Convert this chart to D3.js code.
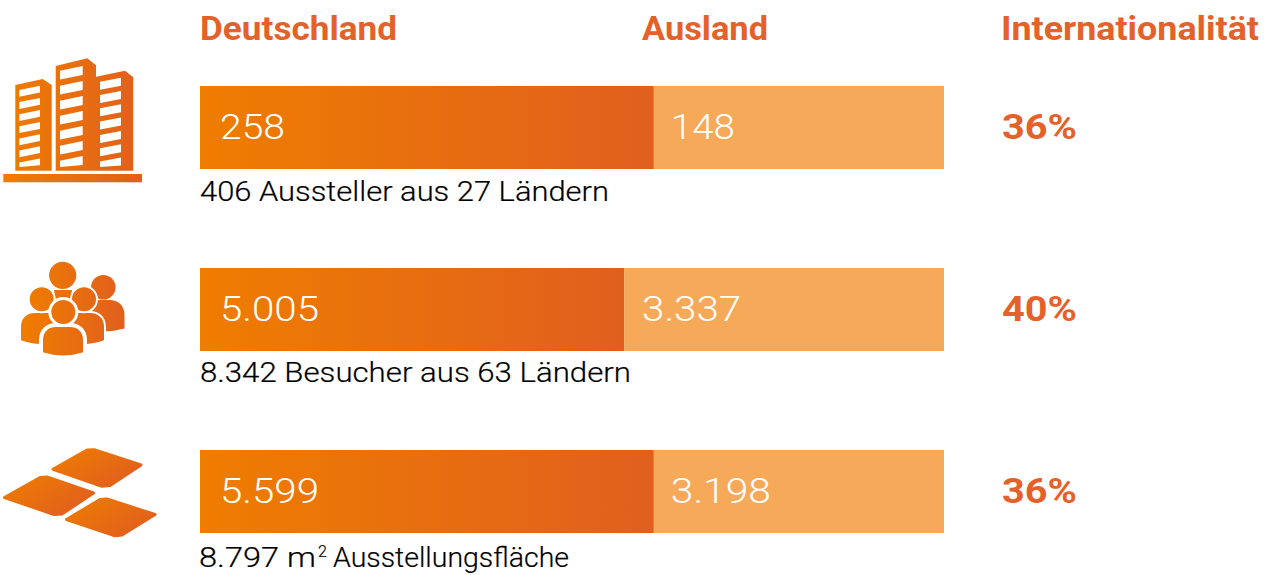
<!DOCTYPE html>
<html lang="de">
<head>
<meta charset="utf-8">
<title>Deutschland / Ausland</title>
<script src="https://cdn.jsdelivr.net/npm/d3@7"></script>
<style>
  html, body { margin: 0; padding: 0; background: #fff; }
  svg { display: block; font-family: Roboto, sans-serif; }
  .head { font-size: 33px; font-weight: 700; fill: #e4622a; }
  .value { font-size: 34.5px; font-weight: 300; fill: #fff; }
  .pct { font-size: 34.5px; font-weight: 700; fill: #e4622a; }
  .caption { font-size: 28px; font-weight: 300; fill: #000; stroke: #000; stroke-width: 0.2px; }
</style>
</head>
<body>
<svg id="chart" width="1269" height="575"></svg>
<script>
const categories = ['Aussteller', 'Besucher', 'Fläche'];
const deutschland = ['258', '5.005', '5.599'];
const ausland = ['148', '3.337', '3.198'];
// bar split as drawn in the picture, percent of bar length (not the true ratio)
const drawnShare = [61, 57, 61];
const internationalitaet = ['36%', '40%', '36%'];
const captions = ['406 Aussteller aus 27 Ländern', '8.342 Besucher aus 63 Ländern', null];
const heads = ['Deutschland', 'Ausland', 'Internationalität'];

const svg = d3.select('#chart');
const defs = svg.append('defs');

function addGradient(id, attrs) {
  const g = defs.append('linearGradient').attr('id', id);
  Object.entries(attrs).forEach(([k, v]) => g.attr(k, v));
  g.append('stop').attr('offset', '0%').attr('stop-color', '#ef7d00');
  g.append('stop').attr('offset', '100%').attr('stop-color', '#e15f1e');
}
addGradient('barGrad', {x1: 0, y1: 0, x2: 1, y2: 0});
addGradient('buildGrad', {gradientUnits: 'userSpaceOnUse', x1: 3, y1: 0, x2: 142, y2: 0});
addGradient('peopleGrad', {gradientUnits: 'userSpaceOnUse', x1: 21, y1: 0, x2: 125, y2: 0});
addGradient('tileGrad', {x1: 0, y1: 0, x2: 1, y2: 0.7});

const x = d3.scaleLinear().domain([0, 100]).range([200, 944]);
const y = d3.scaleBand().domain(categories).range([86, 533]).paddingInner(99 / 182);

// text with a fixed drawn width, the installed fonts are narrower than the original
function fitText(sel, cls, tx, ty, width, str) {
  return sel.append('text')
    .attr('class', cls)
    .attr('x', tx)
    .attr('y', ty)
    .attr('textLength', width)
    .attr('lengthAdjust', 'spacingAndGlyphs')
    .text(str);
}

/* HEADERS */
const headX = [200, 642, 1001];
const headW = [197, 126, 258];
heads.forEach((h, i) => fitText(svg, 'head', headX[i], 40, headW[i], h));

/* BARS */
const rows = svg.selectAll('g.row')
  .data(categories)
  .enter()
  .append('g')
  .attr('class', 'row')
  .attr('transform', d => `translate(0,${y(d)})`);

rows.append('rect')
  .attr('x', x(0))
  .attr('width', (d, i) => x(drawnShare[i]) - x(0))
  .attr('height', y.bandwidth())
  .attr('fill', 'url(#barGrad)');

rows.append('rect')
  .attr('x', (d, i) => x(drawnShare[i]))
  .attr('width', (d, i) => x(100) - x(drawnShare[i]))
  .attr('height', y.bandwidth())
  .attr('fill', '#f7a95a');

const valueW = [65, 99, 99];
const auslandW = [64, 99, 100];
rows.each(function (d, i) {
  const row = d3.select(this);
  fitText(row, 'value', 220, 53, valueW[i], deutschland[i]);
  fitText(row, 'value', x(drawnShare[i]) + (i === 1 ? 18 : 17), 53, auslandW[i], ausland[i]);
  fitText(row, 'pct', 1002, 53, 75, internationalitaet[i]);
  if (captions[i]) {
    fitText(row, 'caption', 200, 115 - (i === 1 ? 1 : 0), i === 0 ? 409 : 431, captions[i]);
  }
});

// last caption has the superscript, pieces are fitted separately
const areaText = svg.append('text').attr('class', 'caption').attr('y', 567);
areaText.append('tspan')
  .attr('x', 199).attr('textLength', 117).attr('lengthAdjust', 'spacingAndGlyphs')
  .text('8.797 m');
areaText.append('tspan')
  .attr('x', 318).attr('dy', -10).style('font-size', '16px')
  .text('2');
areaText.append('tspan')
  .attr('x', 333).attr('dy', 10).attr('textLength', 236).attr('lengthAdjust', 'spacingAndGlyphs')
  .text('Ausstellungsfläche');

/* ICONS */
const line = pts => 'M' + pts.map(p => p.join(',')).join('L') + 'Z';

// building: outline + window rows
const buildings = [
  {outline: [[15.3, 85], [42.7, 79], [51.7, 85], [51.7, 170.7], [15.3, 170.7]],
   wx: [19.3, 40], wy: 90, dy: 12.1, rise: 4.2, h: 6.8},
  {outline: [[55.7, 66], [87.3, 58.3], [96, 65.3], [96, 170.7], [55.7, 170.7]],
   wx: [60, 82.7], wy: 70.7, dy: 15, rise: 4.6, h: 8.8},
  {outline: [[96, 76.7], [125, 70.7], [133.3, 77.3], [133.3, 170.7], [96, 170.7]],
   wx: [100, 121], wy: 81.7, dy: 13.3, rise: 4, h: 8}
];
const build = svg.append('g').attr('fill', 'url(#buildGrad)');
buildings.forEach(b => {
  build.append('path').attr('d', line(b.outline));
  d3.range(7).forEach(k => {
    const top = b.wy + k * b.dy;
    const bottom = Math.min(top + b.h, 167);
    svg.append('path')
      .attr('fill', '#fff')
      .attr('d', line([[b.wx[0], top], [b.wx[1], top - b.rise],
        [b.wx[1], Math.min(top - b.rise + b.h, 166.7)], [b.wx[0], bottom]]));
  });
});
build.append('rect').attr('x', 3.3).attr('y', 174).attr('width', 138.7).attr('height', 8.3);

// people, back to front, white halo separates them
const people = svg.append('g')
  .attr('fill', 'url(#peopleGrad)')
  .attr('stroke', '#fff')
  .attr('stroke-width', 2);
const body = (cx, top, hw, side, sag) =>
  `M${cx - hw},${top + side}L${cx - hw},${top + 15}C${cx - hw},${top + 5} ${cx - hw + 7},${top} ${cx - hw + 15},${top}` +
  `L${cx + hw - 15},${top}C${cx + hw - 7},${top} ${cx + hw},${top + 5} ${cx + hw},${top + 15}L${cx + hw},${top + side}` +
  `Q${cx},${top + side + sag} ${cx - hw},${top + side}Z`;
people.append('path').attr('d', 'M54,290L72,290L70,306L56,306Z').attr('stroke', 'none');
people.append('circle').attr('cx', 62.7).attr('cy', 275.3).attr('r', 13.6).attr('stroke', 'none');
people.append('path').attr('d', body(103, 300, 21.5, 28.5, 6)).attr('stroke', 'none');
people.append('circle').attr('cx', 103.3).attr('cy', 287.3).attr('r', 12.3).attr('stroke', 'none');
people.append('path').attr('d', body(41.5, 312, 21.5, 29, 8));
people.append('circle').attr('cx', 41.7).attr('cy', 299.3).attr('r', 13);
people.append('path').attr('d', body(83.5, 312, 21.5, 29, 8));
people.append('circle').attr('cx', 84).attr('cy', 299.3).attr('r', 13);
people.append('path').attr('d', body(63, 325, 22, 29, 7)).attr('stroke-width', 4);
people.append('circle').attr('cx', 63.3).attr('cy', 312).attr('r', 13.5).attr('stroke-width', 3);

// floor tiles
const tiles = [
  [[53, 469.3], [87, 450], [95, 449.8], [141, 465], [110, 485.5], [102, 486.3]],
  [[4.5, 497.5], [40, 477.5], [47, 477], [93.5, 493], [62, 514], [54, 514.5]],
  [[66.5, 519.5], [100, 499.5], [107, 499], [155, 514.5], [122, 535], [115, 535.8]]
];
svg.append('g')
  .selectAll('path')
  .data(tiles)
  .enter()
  .append('path')
  .attr('d', line)
  .attr('fill', 'url(#tileGrad)')
  .attr('stroke', 'url(#tileGrad)')
  .attr('stroke-width', 3)
  .attr('stroke-linejoin', 'round');
</script>
</body>
</html>
